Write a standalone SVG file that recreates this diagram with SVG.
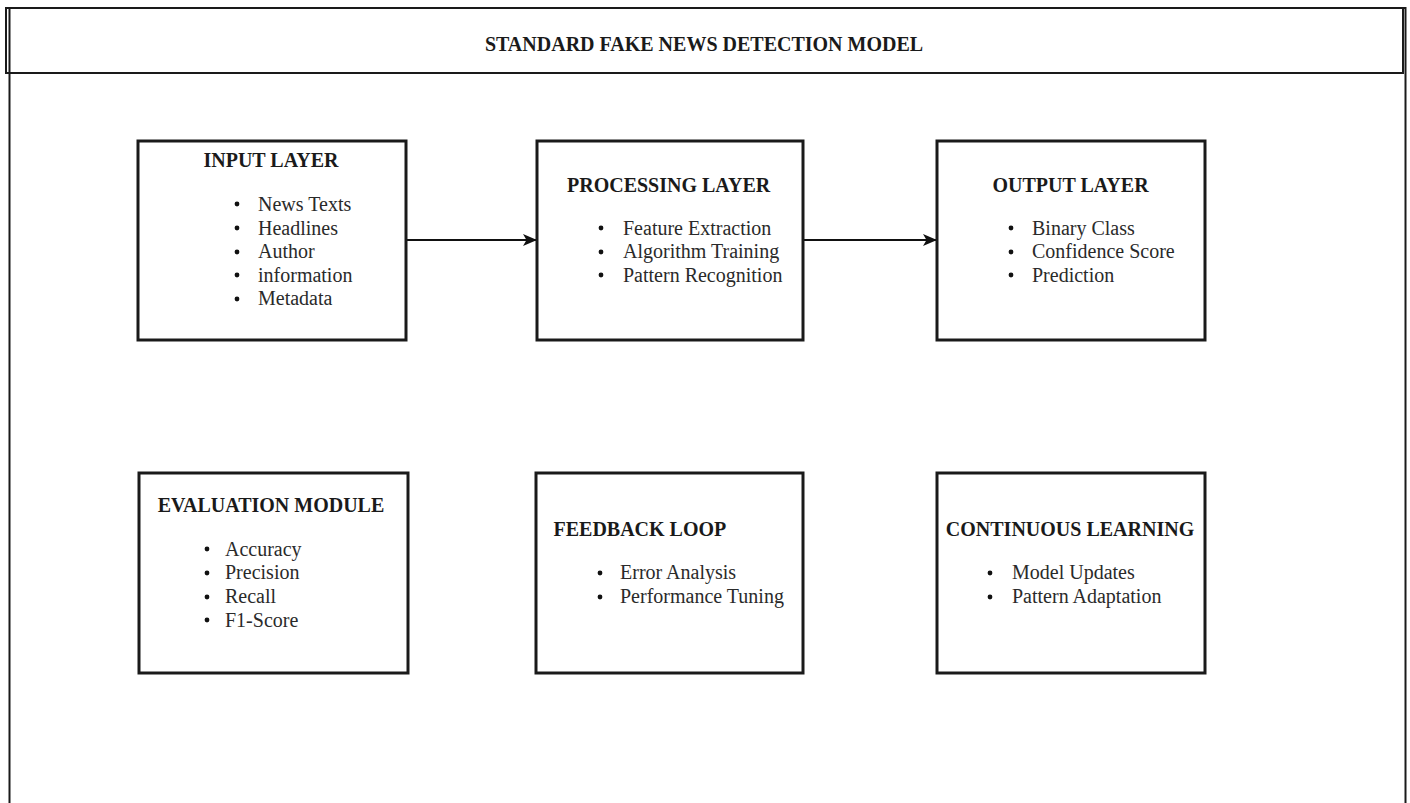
<svg xmlns="http://www.w3.org/2000/svg" width="1410" height="803" viewBox="0 0 1410 803">
<style>
.frame{fill:none;stroke:#1a1a1a;stroke-width:2}
.box{fill:#fff;stroke:#1a1a1a;stroke-width:3}
.ttl{font-family:"Liberation Serif","Times New Roman",serif;font-size:20px;font-weight:bold;fill:#1a1a1a}
.item{font-family:"Liberation Serif","Times New Roman",serif;font-size:20px;fill:#2a2a2a}
.dot{fill:#111}
.conn{fill:none;stroke:#111;stroke-width:2}
</style>
<defs>
<marker id="arr" viewBox="0 0 14 12" refX="13" refY="6" markerWidth="14" markerHeight="12" markerUnits="userSpaceOnUse" orient="auto">
<path d="M0,0 L14,6 L0,12 L3.5,6 Z" fill="#111"/>
</marker>
</defs>
<rect width="1410" height="803" fill="#fff"/>
<g id="frame">
<rect class="frame" x="9.5" y="8" width="1396" height="820"/>
<rect class="frame" x="6" y="8" width="1397" height="65" fill="#fff"/>
<text class="ttl" x="704" y="51" text-anchor="middle">STANDARD FAKE NEWS DETECTION MODEL</text>
</g>
<g id="connectors">
<line class="conn" x1="406" y1="240" x2="536" y2="240" marker-end="url(#arr)"/>
<line class="conn" x1="803" y1="240" x2="936" y2="240" marker-end="url(#arr)" stroke="#333"/>
</g>
<g id="input-layer">
<rect class="box" x="138" y="141" width="268" height="199"/>
<text class="ttl" x="271" y="167" text-anchor="middle">INPUT LAYER</text>
<circle class="dot" cx="237" cy="204" r="2.4"/><text class="item" x="258" y="211">News Texts</text>
<circle class="dot" cx="237" cy="228" r="2.4"/><text class="item" x="258" y="234.5">Headlines</text>
<circle class="dot" cx="237" cy="252" r="2.4"/><text class="item" x="258" y="258">Author</text>
<circle class="dot" cx="237" cy="275" r="2.4"/><text class="item" x="258" y="281.5">information</text>
<circle class="dot" cx="237" cy="299" r="2.4"/><text class="item" x="258" y="305">Metadata</text>
</g>
<g id="processing-layer">
<rect class="box" x="537" y="141" width="266" height="199"/>
<text class="ttl" x="567" y="191.5">PROCESSING LAYER</text>
<circle class="dot" cx="601" cy="228" r="2.4"/><text class="item" x="623" y="234.5">Feature Extraction</text>
<circle class="dot" cx="601" cy="252" r="2.4"/><text class="item" x="623" y="258">Algorithm Training</text>
<circle class="dot" cx="601" cy="275" r="2.4"/><text class="item" x="623" y="281.5">Pattern Recognition</text>
</g>
<g id="output-layer">
<rect class="box" x="937" y="141" width="268" height="199"/>
<text class="ttl" x="1070.5" y="191.5" text-anchor="middle">OUTPUT LAYER</text>
<circle class="dot" cx="1011" cy="228" r="2.4"/><text class="item" x="1032" y="234.5">Binary Class</text>
<circle class="dot" cx="1011" cy="252" r="2.4"/><text class="item" x="1032" y="258">Confidence Score</text>
<circle class="dot" cx="1011" cy="275" r="2.4"/><text class="item" x="1032" y="281.5">Prediction</text>
</g>
<g id="evaluation-module">
<rect class="box" x="139" y="473" width="269" height="200"/>
<text class="ttl" x="271" y="511.5" text-anchor="middle">EVALUATION MODULE</text>
<circle class="dot" cx="207" cy="549" r="2.4"/><text class="item" x="225" y="555.5">Accuracy</text>
<circle class="dot" cx="207" cy="573" r="2.4"/><text class="item" x="225" y="579">Precision</text>
<circle class="dot" cx="207" cy="597" r="2.4"/><text class="item" x="225" y="603">Recall</text>
<circle class="dot" cx="207" cy="620" r="2.4"/><text class="item" x="225" y="626.5">F1-Score</text>
</g>
<g id="feedback-loop">
<rect class="box" x="536" y="473" width="267" height="200"/>
<text class="ttl" x="553.5" y="536">FEEDBACK LOOP</text>
<circle class="dot" cx="600" cy="573" r="2.4"/><text class="item" x="620" y="579">Error Analysis</text>
<circle class="dot" cx="600" cy="597" r="2.4"/><text class="item" x="620" y="603">Performance Tuning</text>
</g>
<g id="continuous-learning">
<rect class="box" x="937" y="473" width="268" height="200"/>
<text class="ttl" x="1070" y="536" text-anchor="middle">CONTINUOUS LEARNING</text>
<circle class="dot" cx="990" cy="573" r="2.4"/><text class="item" x="1012" y="579">Model Updates</text>
<circle class="dot" cx="990" cy="597" r="2.4"/><text class="item" x="1012" y="603">Pattern Adaptation</text>
</g>
</svg>
